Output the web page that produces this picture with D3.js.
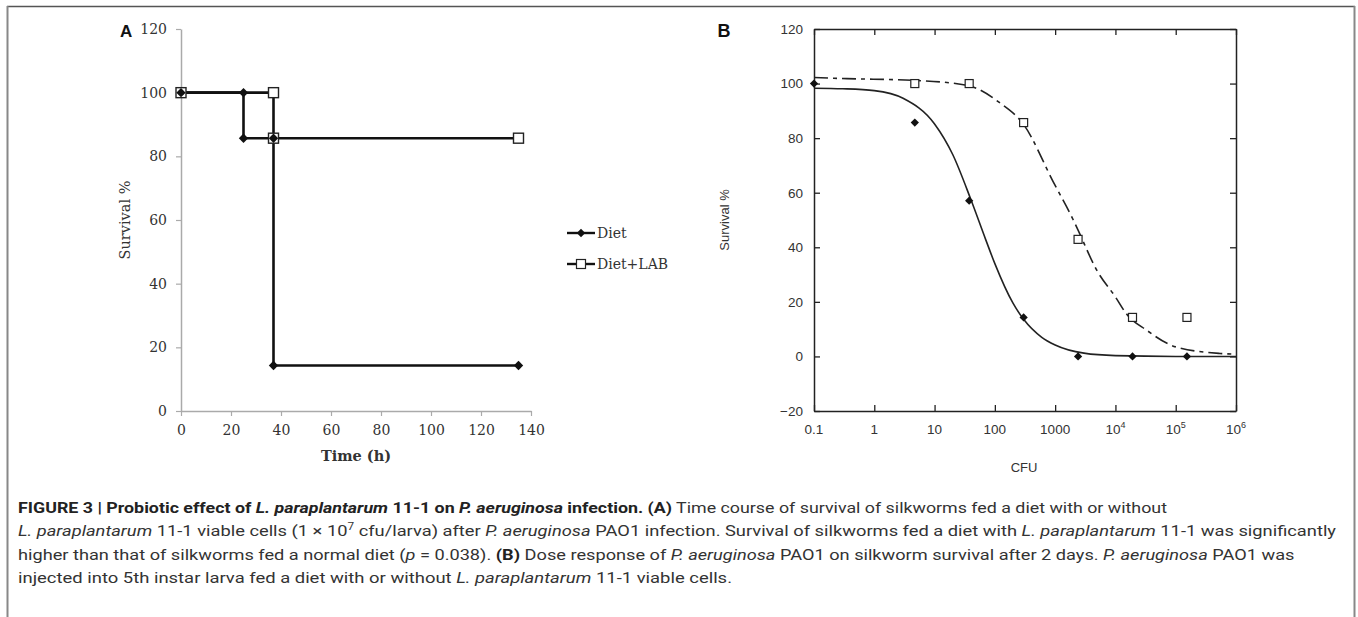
<!DOCTYPE html>
<html>
<head>
<meta charset="utf-8">
<script src="https://cdn.jsdelivr.net/npm/d3@7"></script>
<style>
  body { margin: 0; background: #fff; }
  svg { display: block; }
</style>
</head>
<body>
<svg id="fig" width="1358" height="617"></svg>
<script>
// panel A: time course
var timeDiet = [0, 25, 25, 37, 37, 135]
var survDiet = [100, 100, 85.7, 85.7, 14.3, 14.3]
var timeLab = [0, 37, 37, 135]
var survLab = [100, 100, 85.7, 85.7]
var timeTicks = [0, 20, 40, 60, 80, 100, 120, 140]
var survTicksA = [0, 20, 40, 60, 80, 100, 120]
var legendLabels = ["Diet", "Diet+LAB"]

// panel B: dose response
var doseDiet = [0.1, 4.7, 37.5, 300, 2400, 19200, 153600]
var respDiet = [100, 85.7, 57.1, 14.3, 0, 0, 0]
var doseLab = [4.7, 37.5, 300, 2400, 19200, 153600]
var respLab = [100, 100, 85.7, 42.9, 14.3, 14.3]
// fitted curves
var fitDietX = [0.1, 0.3, 1, 3, 10, 20, 40, 70, 100, 200, 300, 600, 1000, 3000, 10000, 100000, 1000000]
var fitDietY = [98.3, 98.1, 97.4, 94.6, 85.2, 74, 57.5, 43, 34, 19.5, 13.6, 7, 4.2, 1.2, 0.3, 0, 0]
var fitLabX = [0.1, 0.35, 4.4, 34, 120, 300, 930, 2000, 2400, 4900, 10000, 15000, 33000, 100000, 540000, 1000000]
var fitLabY = [102.2, 101.8, 101.2, 99.4, 93, 85, 64, 50, 46.3, 31.6, 21.8, 15.8, 9.6, 3.5, 1.1, 0.8]
var cfuTicks = [0.1, 1, 10, 100, 1000, 10000, 100000, 1000000]
var cfuTickBase = ["0.1", "1", "10", "100", "1000", "10", "10", "10"]
var cfuTickExp = ["", "", "", "", "", "4", "5", "6"]
var survTicksB = [-20, 0, 20, 40, 60, 80, 100, 120]

var svg = d3.select("#fig")

// outer frame
svg.append("line").attr("x1", 7).attr("x2", 1355).attr("y1", 6.5).attr("y2", 6.5)
    .attr("stroke", "#555").attr("stroke-width", 1.5)
svg.append("line").attr("x1", 7.5).attr("x2", 7.5).attr("y1", 6).attr("y2", 617)
    .attr("stroke", "#888").attr("stroke-width", 2)
svg.append("line").attr("x1", 1354.5).attr("x2", 1354.5).attr("y1", 6).attr("y2", 617)
    .attr("stroke", "#888").attr("stroke-width", 2)

drawPanelA()
drawPanelB()
drawCaption()

function diamond(size) {
  return d3.symbol(d3.symbolSquare, size)()
}

function drawPanelA() {
  var SERIF = "'DejaVu Serif', serif"
  var x = d3.scaleLinear().domain([0, 140]).range([181, 531])
  var y = d3.scaleLinear().domain([0, 120]).range([411, 29])
  var g = svg.append("g")

  var xAxis = g.append("g").attr("transform", "translate(0,411)")
      .call(d3.axisBottom(x).tickValues(timeTicks).tickSize(5).tickSizeOuter(0).tickPadding(6))
  var yAxis = g.append("g").attr("transform", "translate(181,0)")
      .call(d3.axisLeft(y).tickValues(survTicksA).tickSize(5).tickSizeOuter(0).tickPadding(9))
  ;[xAxis, yAxis].forEach(function(a) {
    a.select(".domain").attr("stroke", "#aaa").attr("stroke-width", 1.5)
    a.selectAll(".tick line").attr("stroke", "#aaa").attr("stroke-width", 1.2)
    a.selectAll(".tick text").attr("font-family", SERIF).attr("font-size", 14).attr("fill", "#333")
  })
  xAxis.selectAll(".tick text").attr("dy", "0.9em")

  g.append("text").attr("x", 120).attr("y", 37)
      .attr("font-family", "'Liberation Sans', Arial, sans-serif").attr("font-weight", "bold")
      .attr("font-size", 17).attr("fill", "#111").text("A")

  g.append("text").attr("transform", "translate(130,220) rotate(-90)")
      .attr("text-anchor", "middle").attr("font-family", SERIF).attr("font-size", 14.5)
      .attr("fill", "#333").text("Survival %")
  g.append("text").attr("x", 356).attr("y", 461).attr("text-anchor", "middle")
      .attr("font-family", SERIF).attr("font-weight", "bold").attr("font-size", 14.5)
      .attr("fill", "#333").text("Time (h)")

  var line = d3.line().x(function(d) { return x(d[0]) }).y(function(d) { return y(d[1]) })
  var lab = d3.zip(timeLab, survLab)
  var diet = d3.zip(timeDiet, survDiet)
  ;[lab, diet].forEach(function(s) {
    g.append("path").datum(s).attr("d", line).attr("fill", "none")
        .attr("stroke", "#111").attr("stroke-width", 2.6)
  })
  g.selectAll(".sqA").data(lab).join("rect").attr("class", "sqA")
      .attr("x", function(d) { return x(d[0]) - 5 }).attr("y", function(d) { return y(d[1]) - 5 })
      .attr("width", 10).attr("height", 10)
      .attr("fill", "#fff").attr("stroke", "#222").attr("stroke-width", 1.4)
  g.selectAll(".dmA").data(diet).join("path").attr("class", "dmA")
      .attr("d", diamond(44))
      .attr("transform", function(d) { return "translate(" + x(d[0]) + "," + y(d[1]) + ") rotate(45)" })
      .attr("fill", "#111")

  // legend
  var leg = g.append("g")
  legendLabels.forEach(function(name, i) {
    var ly = 233 + i * 31
    leg.append("line").attr("x1", 567).attr("x2", 595).attr("y1", ly).attr("y2", ly)
        .attr("stroke", "#111").attr("stroke-width", 2.4)
    if (i === 0) {
      leg.append("path").attr("d", diamond(36))
          .attr("transform", "translate(581," + ly + ") rotate(45)").attr("fill", "#111")
    } else {
      leg.append("rect").attr("x", 576.5).attr("y", ly - 4.5).attr("width", 9).attr("height", 9)
          .attr("fill", "#fff").attr("stroke", "#222").attr("stroke-width", 1.2)
    }
    leg.append("text").attr("x", 597).attr("y", ly + 5).attr("font-family", SERIF)
        .attr("font-size", 14).attr("fill", "#333").text(name)
  })
}

function drawPanelB() {
  var SANS = "'Liberation Sans', Arial, sans-serif"
  var x = d3.scaleLog().domain([0.1, 1e6]).range([814, 1236])
  var y = d3.scaleLinear().domain([-20, 120]).range([411, 29])
  var g = svg.append("g")

  var bottom = g.append("g").attr("transform", "translate(0,411)")
      .call(d3.axisBottom(x).tickValues(cfuTicks).tickFormat("").tickSize(-6).tickSizeOuter(0))
  var top = g.append("g").attr("transform", "translate(0,29)")
      .call(d3.axisTop(x).tickValues(cfuTicks).tickFormat("").tickSize(-6).tickSizeOuter(0))
  var left = g.append("g").attr("transform", "translate(814,0)")
      .call(d3.axisLeft(y).tickValues(survTicksB).tickSize(-6).tickSizeOuter(0).tickPadding(11))
  var right = g.append("g").attr("transform", "translate(1236,0)")
      .call(d3.axisRight(y).tickValues(survTicksB).tickFormat("").tickSize(-6).tickSizeOuter(0))
  ;[bottom, top, left, right].forEach(function(a) {
    a.select(".domain").attr("stroke", "#222").attr("stroke-width", 1.5)
    a.selectAll(".tick line").attr("stroke", "#222").attr("stroke-width", 1.3)
  })
  left.selectAll(".tick text").attr("font-family", SANS).attr("font-size", 13.5).attr("fill", "#333")

  // x tick labels with powers of ten
  cfuTicks.forEach(function(v, i) {
    var t = g.append("text").attr("x", x(v)).attr("y", 434).attr("text-anchor", "middle")
        .attr("font-family", SANS).attr("font-size", 13.5).attr("fill", "#333")
    t.append("tspan").text(cfuTickBase[i])
    if (cfuTickExp[i]) {
      t.append("tspan").attr("dy", -6).attr("font-size", 9).text(cfuTickExp[i])
    }
  })

  g.append("text").attr("x", 724).attr("y", 37).attr("font-family", SANS)
      .attr("font-weight", "bold").attr("font-size", 18).attr("fill", "#111")
      .attr("text-anchor", "middle").text("B")
  g.append("text").attr("transform", "translate(729,220) rotate(-90)")
      .attr("text-anchor", "middle").attr("font-family", SANS).attr("font-size", 13)
      .attr("fill", "#333").text("Survival %")
  g.append("text").attr("x", 1024).attr("y", 472).attr("text-anchor", "middle")
      .attr("font-family", SANS).attr("font-size", 13).attr("fill", "#333").text("CFU")

  var line = d3.line().x(function(d) { return x(d[0]) }).y(function(d) { return y(d[1]) })
      .curve(d3.curveMonotoneX)
  g.append("path").datum(d3.zip(fitDietX, fitDietY)).attr("d", line)
      .attr("fill", "none").attr("stroke", "#222").attr("stroke-width", 1.6)
  g.append("path").datum(d3.zip(fitLabX, fitLabY)).attr("d", line)
      .attr("fill", "none").attr("stroke", "#222").attr("stroke-width", 1.6)
      .attr("stroke-dasharray", "14,5,4,5")

  g.selectAll(".sqB").data(d3.zip(doseLab, respLab)).join("rect").attr("class", "sqB")
      .attr("x", function(d) { return x(d[0]) - 4 }).attr("y", function(d) { return y(d[1]) - 4 })
      .attr("width", 8).attr("height", 8)
      .attr("fill", "#fff").attr("stroke", "#222").attr("stroke-width", 1.2)
  g.selectAll(".dmB").data(d3.zip(doseDiet, respDiet)).join("path").attr("class", "dmB")
      .attr("d", diamond(34))
      .attr("transform", function(d) { return "translate(" + x(d[0]) + "," + y(d[1]) + ") rotate(45)" })
      .attr("fill", "#111")
}

function drawCaption() {
  // len: right end of the line as seen in the figure; null = keep the common squeeze
  var lines = [
    { y: 513, end: 1167, parts: [
      ["FIGURE 3 | Probiotic effect of ", "b"], ["L. paraplantarum", "bi"], [" 11-1 on ", "b"],
      ["P. aeruginosa", "bi"], [" infection. (A)", "b"],
      [" Time course of survival of silkworms fed a diet with or without", "n"]] },
    { y: 536, end: 1336, parts: [
      ["L. paraplantarum", "i"], [" 11-1 viable cells (1 \u00d7 10", "n"], ["7", "sup"],
      [" cfu/larva) after ", "n"], ["P. aeruginosa", "i"],
      [" PAO1 infection. Survival of silkworms fed a diet with ", "n"], ["L. paraplantarum", "i"],
      [" 11-1 was significantly", "n"]] },
    { y: 560, end: null, parts: [
      ["higher than that of silkworms fed a normal diet (", "n"], ["p", "i"], [" = 0.038). ", "n"],
      ["(B)", "b"], [" Dose response of ", "n"], ["P. aeruginosa", "i"],
      [" PAO1 on silkworm survival after 2 days. ", "n"], ["P. aeruginosa", "i"], [" PAO1 was", "n"]] },
    { y: 583, end: 732, parts: [
      ["injected into 5th instar larva fed a diet with or without ", "n"], ["L. paraplantarum", "i"],
      [" 11-1 viable cells.", "n"]] }
  ]
  var X0 = 18
  var cap = svg.append("g")
  var texts = lines.map(function(ln) {
    var t = cap.append("text").attr("x", X0).attr("y", ln.y)
        .attr("font-family", "'Liberation Sans Narrow', 'Roboto', 'Liberation Sans', sans-serif")
        .attr("font-size", 15.5).attr("fill", "#333")
    var raised = false
    ln.parts.forEach(function(p) {
      var s = t.append("tspan").text(p[0])
      if (p[1] === "b" || p[1] === "bi") s.attr("font-weight", "bold").attr("fill", "#222")
      if (p[1] === "i" || p[1] === "bi") s.attr("font-style", "italic")
      if (p[1] === "sup") { s.attr("dy", -6).attr("font-size", 10); raised = true }
      else if (raised) { s.attr("dy", 6); raised = false }
    })
    return t
  })
  var natural = texts.map(function(t) { return t.node().getComputedTextLength() })
  var ratios = []
  lines.forEach(function(ln, i) { if (ln.end) ratios.push((ln.end - X0) / natural[i]) })
  var k = d3.mean(ratios)
  texts.forEach(function(t, i) {
    var len = lines[i].end ? lines[i].end - X0 : natural[i] * k
    t.attr("textLength", len).attr("lengthAdjust", "spacingAndGlyphs")
  })
}
</script>
</body>
</html>
